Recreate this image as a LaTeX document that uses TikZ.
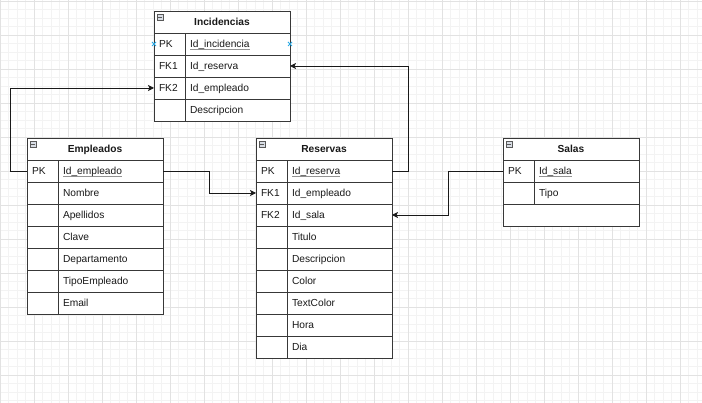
\documentclass[tikz,border=0pt]{standalone}
\usepackage{fontspec}
\setmainfont{Liberation Sans}
\usepackage{tikz}
\usetikzlibrary{calc,arrows.meta}
\definecolor{gridmajor}{HTML}{E2E2E2}
\definecolor{gridminor}{HTML}{F3F3F3}
\definecolor{tblline}{HTML}{383838}
\definecolor{selblue}{HTML}{29A9E5}
\definecolor{iconfill}{HTML}{D8DDE5}
\newcommand{\erfont}{\fontsize{10.2}{12}\selectfont}
\newcommand{\pkname}[1]{\setbox0\hbox{#1}\rlap{\color{gray!85}\rule[-1.7pt]{\wd0}{0.6pt}}\box0}

\begin{document}
\begin{tikzpicture}[x=1pt,y=-1pt,>={Stealth[length=6pt,width=6pt,inset=1.5pt]},line join=miter,
                cell/.style={draw=tblline,fill=white,line width=0.9pt,inner ysep=0pt,outer sep=0pt,
                    minimum height=22pt,anchor=north west,font=\erfont,text=black!90,
                    text height=7.3pt,text depth=0pt},
                keycell/.style={cell,text width=21pt,inner xsep=5pt,align=left},
                fieldcell/.style={cell,text width=95pt,inner xsep=5pt,align=left},
                headcell/.style={cell,minimum width=136pt,inner xsep=0pt,font=\erfont\bfseries},
                emptycell/.style={cell,minimum width=136pt},
                fk/.style={->,draw=black!90,line width=0.8pt},
                selmark/.style={draw=selblue,line width=0.8pt},
                icon/.style={draw=gray!70!black,fill=iconfill,line width=0.5pt}]
            \useasboundingbox [fill=white] (0,0) rectangle (702,403);
            \foreach \x in {0,8.5,...,702} \draw[gridminor,line width=0.6pt] (\x,0) -- (\x,403);
            \foreach \y in {1,9.5,...,403} \draw[gridminor,line width=0.6pt] (0,\y) -- (702,\y);
            \foreach \x in {0,34,...,700} \draw[gridmajor,line width=0.7pt] (\x,0) -- (\x,403);
            \foreach \y in {1,35,...,400} \draw[gridmajor,line width=0.7pt] (0,\y) -- (702,\y);

            \node[headcell] (inc-h) at (154,11) {Incidencias};
            \foreach \k/\f [count=\i from 0] in {PK/\pkname{Id\_incidencia},FK1/Id\_reserva,
                FK2/Id\_empleado,/Descripcion}
            {
                \node[keycell] (inc-k\i) at (154,{33+22*\i}) {\k};
                \node[fieldcell] (inc-f\i) at (185,{33+22*\i}) {\f};
            }

            \node[headcell] (emp-h) at (27,138) {Empleados};
            \foreach \k/\f [count=\i from 0] in {PK/\pkname{Id\_empleado},/Nombre,/Apellidos,
                /Clave,/Departamento,/TipoEmpleado,/Email}
            {
                \node[keycell] (emp-k\i) at (27,{160+22*\i}) {\k};
                \node[fieldcell] (emp-f\i) at (58,{160+22*\i}) {\f};
            }

            \node[headcell] (res-h) at (256,138) {Reservas};
            \foreach \k/\f [count=\i from 0] in {PK/\pkname{Id\_reserva},FK1/Id\_empleado,
                FK2/Id\_sala,/Titulo,/Descripcion,/Color,/TextColor,/Hora,/Dia}
            {
                \node[keycell] (res-k\i) at (256,{160+22*\i}) {\k};
                \node[fieldcell] (res-f\i) at (287,{160+22*\i}) {\f};
            }

            \node[headcell] (sal-h) at (503,138) {Salas};
            \foreach \k/\f [count=\i from 0] in {PK/\pkname{Id\_sala},/Tipo}
            {
                \node[keycell] (sal-k\i) at (503,{160+22*\i}) {\k};
                \node[fieldcell] (sal-f\i) at (534,{160+22*\i}) {\f};
            }
            \node[emptycell] (sal-e) at (503,204) {};

            \foreach \t in {inc,emp,res,sal}
            {
                \draw[icon] ($(\t-h.north west)+(3,3)$) rectangle +(6,6);
                \draw[gray!70!black,line width=0.6pt] ($(\t-h.north west)+(4.3,6)$) -- +(3.4,0);
            }

            \draw[fk] (emp-k0.west) -- ++(-17,0) |- (inc-k2.west);
            \draw[fk] (res-f0.east) -- ++(16,0) |- (inc-f1.east);
            \draw[fk] (emp-f0.east) -- ++(46,0) |- (res-k1.west);
            \draw[fk] (sal-k0.west) -- ++(-55,0) |- (res-f2.east);

            \foreach \p in {inc-k0.west,inc-f0.east}
            {
                \draw[selmark] ($(\p)+(-2,-2)$) -- +(4,4);
                \draw[selmark] ($(\p)+(-2,2)$) -- +(4,-4);
            }
        \end{tikzpicture}
\end{document}
